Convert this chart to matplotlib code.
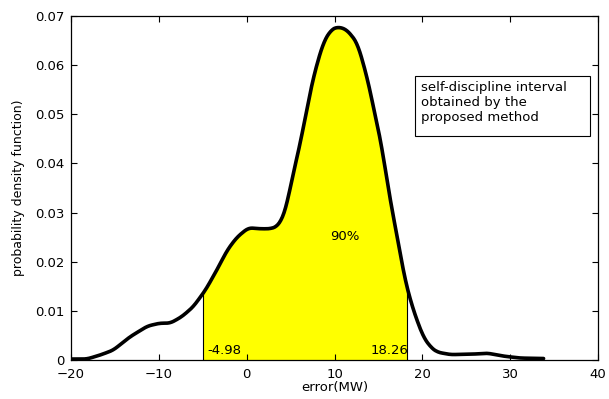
import numpy as np
import matplotlib
matplotlib.use('Agg')
import matplotlib.pyplot as plt
from matplotlib.patches import Rectangle

# estimated pdf of the forecast error (MW)
error_mw = [-20.0, -18.2, -16.7, -15.2, -13.3, -11.3, -9.9, -8.7, -7.4, -6.1,
            -4.7, -3.4, -2.2, -1.1, 0.2, 1.5, 2.7, 3.5, 4.0, 4.5, 5.2,
            6.1, 6.9, 7.6, 8.7, 9.6, 10.4, 11.4, 12.6, 13.7, 14.5,
            15.4, 16.0, 16.7, 17.4, 18.0, 18.6, 19.0, 20.1, 21.0, 21.7,
            23.2, 25.8, 27.4, 29.2, 31.1, 33.8]
density = [0.0002, 0.0002, 0.0010, 0.0020, 0.0047, 0.0069, 0.0075, 0.0075, 0.0088, 0.0108,
           0.0142, 0.0183, 0.0224, 0.0250, 0.0269, 0.0267, 0.0267, 0.0272, 0.0286, 0.0310, 0.0372,
           0.0441, 0.0515, 0.0576, 0.0645, 0.0672, 0.0678, 0.0672, 0.0645, 0.0576, 0.0509,
           0.0433, 0.0362, 0.0291, 0.0225, 0.0165, 0.0125, 0.0100, 0.0047, 0.0025, 0.0016,
           0.0011, 0.0012, 0.0014, 0.0008, 0.0004, 0.0003]

lower, upper = -4.98, 18.26
coverage = '90%'
note = 'self-discipline interval\nobtained by the\nproposed method'

plt.rcParams['font.family'] = ['DejaVu Sans']

# smooth curve through the read points
xs = np.linspace(error_mw[0], error_mw[-1], 600)
ys = np.interp(xs, error_mw, density)
k = np.ones(11) / 11
ys = np.convolve(np.pad(ys, 5, mode='edge'), k, mode='valid')

fig = plt.figure(figsize=(6.09, 3.99), dpi=100)
ax = fig.add_axes([0.1166, 0.0977, 0.8654, 0.8623])

# shaded interval
mask = (xs >= lower) & (xs <= upper)
xf = np.concatenate([[lower], xs[mask], [upper]])
yf = np.concatenate([[np.interp(lower, xs, ys)], ys[mask], [np.interp(upper, xs, ys)]])
ax.fill_between(xf, 0, yf, color='#ffff00', lw=0)
ax.plot([lower, lower], [0, yf[0]], color='k', lw=0.8)
ax.plot([upper, upper], [0, yf[-1]], color='k', lw=0.8)
ax.plot(xs, ys, color='k', lw=2.6, solid_capstyle='round')

ax.text(lower + 0.5, 0.0013, f'{lower:.2f}', fontsize=9.5)
ax.text(upper + 0.15, 0.0013, f'{upper:.2f}', fontsize=9.5, ha='right')
ax.text(11.2, 0.0252, coverage, fontsize=9.5, ha='center', va='center')

# annotation box
ax.add_patch(Rectangle((0.653, 0.651), 0.332, 0.175, transform=ax.transAxes,
                       fc='white', ec='k', lw=0.8, zorder=3))
ax.text(0.664, 0.812, note, transform=ax.transAxes, fontsize=9.5,
        va='top', ha='left', linespacing=1.2, zorder=4)

ax.set_xlim(-20, 40)
ax.set_ylim(0, 0.07)
ax.set_xticks(np.arange(-20, 41, 10))
ax.set_yticks(np.arange(0, 0.071, 0.01))
ax.set_yticklabels(['0', '0.01', '0.02', '0.03', '0.04', '0.05', '0.06', '0.07'])
ax.tick_params(direction='in', top=True, right=True, length=4, width=0.8,
               labelsize=9.5)
ax.tick_params(axis='x', pad=6)
ax.tick_params(axis='y', pad=5)
for s in ax.spines.values():
    s.set_linewidth(0.9)

ax.set_xlabel('error(MW)', fontsize=9.5, labelpad=0)
ax.set_ylabel('probability density function)', fontsize=9, labelpad=7)

fig.savefig('out.png', dpi=100)
